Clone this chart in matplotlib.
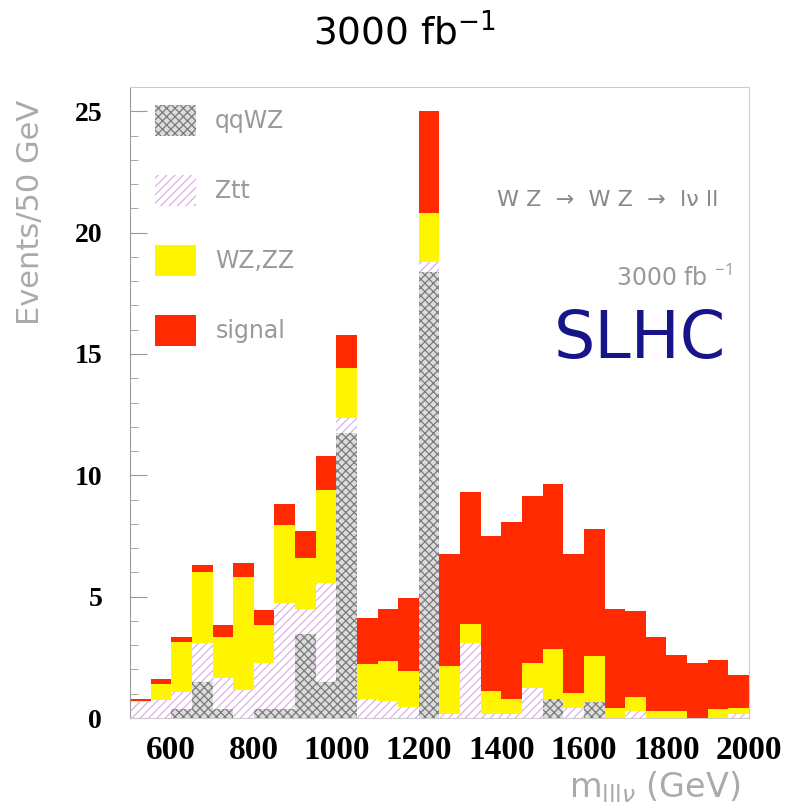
import numpy as np
import matplotlib.pyplot as plt
from matplotlib.patches import Patch
from matplotlib.ticker import MultipleLocator

plt.rcParams['mathtext.fontset'] = 'custom'
plt.rcParams['mathtext.rm'] = 'Open Sans'
plt.rcParams['hatch.linewidth'] = 0.9

# bins of 50 GeV from 500 to 2000
edges = np.arange(500, 2000, 50)

qqwz = [0, 0, 0.39, 1.49, 0.39, 0, 0.39, 0.39, 3.48, 1.49, 11.74, 0, 0, 0, 18.37,
        0, 0, 0, 0, 0, 0.8, 0, 0.66, 0, 0, 0, 0, 0, 0, 0]
ztt = [0.65, 0.73, 0.69, 1.58, 1.24, 1.14, 1.86, 4.33, 1.03, 4.06, 0.62, 0.8, 0.68, 0.45, 0.41,
       0.15, 3.11, 0.15, 0.15, 1.25, 0, 0.43, 0, 0, 0.29, 0, 0, 0, 0, 0.15]
wzzz = [0.05, 0.69, 2.06, 2.93, 1.72, 4.65, 1.58, 3.23, 2.09, 3.85, 2.06, 1.44, 1.66, 1.49, 2.04,
        1.99, 0.76, 0.96, 0.62, 1.03, 2.06, 0.62, 1.9, 0.43, 0.59, 0.29, 0.29, 0, 0.36, 0.28]
signal = [0.1, 0.18, 0.2, 0.3, 0.48, 0.6, 0.62, 0.85, 1.11, 1.39, 1.37, 1.86, 2.17, 3.01, 4.19,
          4.61, 5.43, 6.4, 7.29, 6.88, 6.78, 5.71, 5.23, 4.06, 3.54, 3.03, 2.3, 2.28, 2.04, 1.33]

styles = [
    ('qqWZ', qqwz, dict(facecolor='#dcdcdc', edgecolor='#7a7a7a', hatch='xxxx')),
    ('Ztt', ztt, dict(facecolor='white', edgecolor='#ddb0e6', hatch='////')),
    ('WZ,ZZ', wzzz, dict(facecolor='#fff500', edgecolor='#fff500')),
    ('signal', signal, dict(facecolor='#ff2a00', edgecolor='#ff2a00')),
]

fig = plt.figure(figsize=(7.91, 8.11), dpi=100)
ax = fig.add_axes([130/791, 93/811, 619/791, 631/811])

bottom = np.zeros(len(edges))
handles = []
for name, vals, st in styles:
    vals = np.array(vals)
    ax.bar(edges, vals, width=50, bottom=bottom, align='edge', linewidth=0, **st)
    bottom += vals
    handles.append(Patch(label=name, linewidth=0, **st))

ax.set_xlim(500, 2000)
ax.set_ylim(0, 26)
ax.set_xticks([600, 800, 1000, 1200, 1400, 1600, 1800, 2000])
ax.set_yticks([0, 5, 10, 15, 20, 25])
ax.yaxis.set_minor_locator(MultipleLocator(1))
ax.tick_params(axis='x', length=0, pad=12, labelsize=24)
ax.tick_params(axis='y', which='major', direction='in', length=12, color='#999999', pad=20, labelsize=20)
ax.tick_params(axis='y', which='minor', direction='in', length=6, color='#999999')
for lab in ax.get_xticklabels() + ax.get_yticklabels():
    lab.set_family('Liberation Serif')
    lab.set_fontweight('bold')
for s in ax.spines.values():
    s.set_color('#cccccc')
    s.set_linewidth(0.8)
ax.spines['left'].set_color('#999999')

ax.legend(handles=handles, loc='upper left', bbox_to_anchor=(0.0404, 0.9715),
          frameon=False, fontsize=17, handlelength=1.75, handleheight=1.65,
          labelspacing=1.65, handletextpad=0.8, borderpad=0, borderaxespad=0,
          labelcolor='#999999')

ax.text(0.593, 0.821, 'W Z  →  W Z  →  lν ll', transform=ax.transAxes,
        fontsize=16, color='#888888', va='center', ha='left')
ax.text(0.9725, 0.697, '3000 fb $^{-1}$', transform=ax.transAxes,
        fontsize=17, color='#999999', va='center', ha='right')
ax.text(0.963, 0.599, 'SLHC', transform=ax.transAxes,
        fontsize=47, color='#16168a', va='center', ha='right')

fig.text(405/791, 1 - 33/811, r'$\mathregular{3000\ fb^{-1}}$', ha='center', va='center',
         fontsize=27)
fig.text(31/791, 1 - 212/811, 'Events/50 GeV', rotation=90, ha='center', va='center',
         fontsize=22, color='#aaaaaa')
fig.text(655/791, 1 - 787/811, r'm$_{\mathregular{lll}\nu}$ (GeV)', ha='center', va='center',
         fontsize=24, color='#aaaaaa')

fig.savefig('out.png', dpi=100)
